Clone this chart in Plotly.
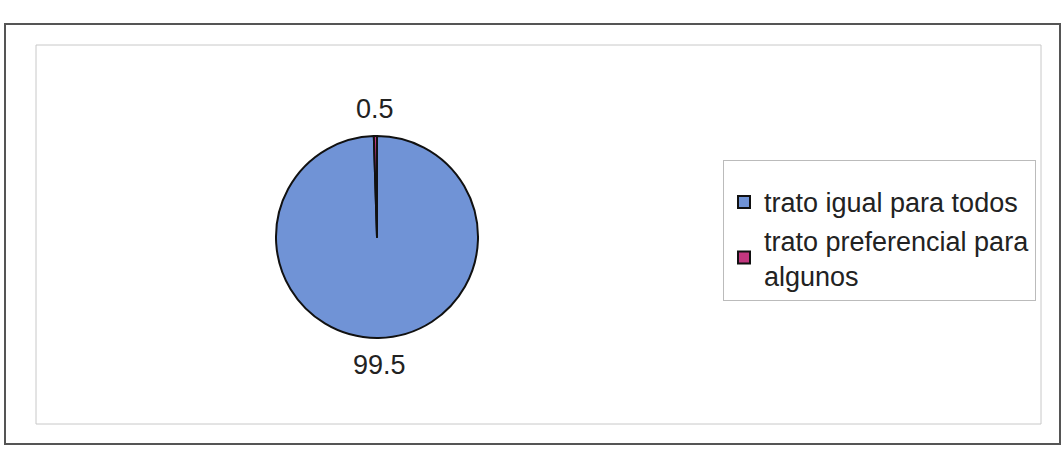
import math
import plotly.graph_objects as go

categories = ["trato igual para todos", "trato preferencial para<br>algunos"]
values = [99.5, 0.5]
value_labels = ["99.5", "0.5"]
colors = ["#7093d6", "#c2377f"]

W, H = 1062, 454
FONT = "Liberation Sans, Arial"

# pie placement (pixels)
CX, CY, R = 377, 237, 101
LABEL_R = 128

fig = go.Figure(go.Pie(
    labels=categories,
    values=values,
    sort=False,
    direction="clockwise",
    rotation=0,
    marker=dict(colors=colors, line=dict(color="#111111", width=2)),
    textinfo="none",
    domain=dict(x=[(CX - R) / W, (CX + R) / W], y=[1 - (CY + R) / H, 1 - (CY - R) / H]),
    hoverinfo="label+value",
))

# outside value labels placed at each slice's mid-angle (clockwise from 12 o'clock)
total = sum(values)
cum = 0.0
for v, txt in zip(values, value_labels):
    mid = (cum + v / 2) / total * 2 * math.pi
    cum += v
    px = CX + LABEL_R * math.sin(mid)
    py = CY - LABEL_R * math.cos(mid)
    fig.add_annotation(
        x=px / W, y=1 - py / H, xref="paper", yref="paper",
        text=txt, showarrow=False, xanchor="center", yanchor="middle",
        font=dict(family=FONT, size=27, color="#222222"),
    )

fig.update_layout(
    width=W, height=H,
    margin=dict(l=0, r=0, t=0, b=0),
    paper_bgcolor="white",
    plot_bgcolor="white",
    showlegend=True,
    legend=dict(
        x=723 / W, y=1 - 160 / H, xanchor="left", yanchor="top",
        bordercolor="#bbbbbb", borderwidth=1, bgcolor="white",
        font=dict(family=FONT, size=27, color="#222222"),
        title=dict(text="&nbsp;", font=dict(size=13)),
        itemwidth=30,
    ),
    shapes=[
        dict(type="rect", xref="paper", yref="paper",
             x0=5 / W, x1=1060 / W, y0=1 - 444 / H, y1=1 - 24 / H,
             line=dict(color="#555555", width=2)),
        dict(type="rect", xref="paper", yref="paper",
             x0=36 / W, x1=1041 / W, y0=1 - 424 / H, y1=1 - 45 / H,
             line=dict(color="#c8c8c8", width=1)),
    ],
)

fig.write_html("out.html", config={"displayModeBar": False},
               post_script="document.body.style.margin='0px';")
